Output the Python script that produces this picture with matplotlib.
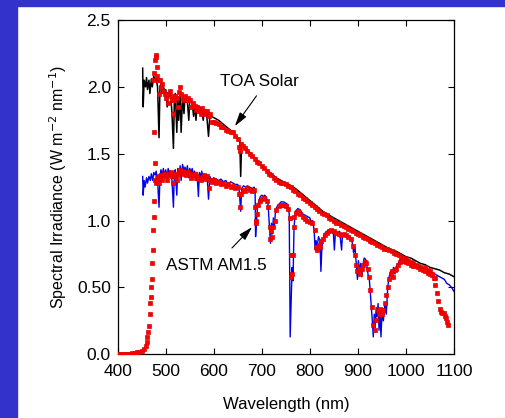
import matplotlib

matplotlib.use("Agg")
import matplotlib.pyplot as plt
from matplotlib.patches import Rectangle

plt.rcParams["font.family"] = ["Liberation Sans", "DejaVu Sans"]

# Top-of-atmosphere solar spectrum (black line)
toa_wl = [452, 453, 455, 458, 460, 462, 465, 467, 470, 472, 475, 478, 480, 483, 486, 488,
          490, 493, 495, 498, 500, 503, 505, 508, 510, 513, 516, 518, 520, 523, 525, 527,
          530, 532, 535, 538, 540, 545, 548, 550, 555, 558, 560, 563, 565, 570, 575, 578,
          580, 585, 589, 592, 595, 600, 610, 620, 630, 640, 650, 654, 656, 658, 665, 675,
          690, 700, 710, 720, 730, 740, 750, 760, 770, 780, 790, 800, 810, 820, 830, 840,
          850, 860, 870, 880, 890, 900, 910, 920, 930, 940, 950, 960, 970, 980, 990, 1000,
          1010, 1020, 1030, 1040, 1050, 1060, 1070, 1080, 1090, 1100]
toa_black = [2.14, 1.85, 2.05, 2.00, 2.07, 1.98, 2.05, 1.95, 2.06, 2.00, 2.08, 2.05, 2.06, 2.00, 1.62, 2.00,
             2.02, 1.95, 2.00, 1.97, 1.98, 1.85, 1.96, 1.94, 1.96, 1.80, 1.54, 1.92, 1.95, 1.66, 1.93, 1.75,
             1.95, 1.66, 1.92, 1.80, 1.92, 1.89, 1.75, 1.90, 1.88, 1.78, 1.87, 1.75, 1.86, 1.85, 1.83, 1.75,
             1.82, 1.80, 1.63, 1.79, 1.78, 1.77, 1.75, 1.72, 1.69, 1.66, 1.62, 1.60, 1.33, 1.58, 1.55, 1.51,
             1.45, 1.41, 1.38, 1.35, 1.32, 1.30, 1.28, 1.26, 1.24, 1.21, 1.18, 1.15, 1.12, 1.09, 1.06, 1.04,
             1.02, 1.00, 0.98, 0.96, 0.94, 0.92, 0.90, 0.88, 0.86, 0.84, 0.82, 0.80, 0.78, 0.77, 0.75, 0.73,
             0.72, 0.70, 0.68, 0.67, 0.65, 0.64, 0.63, 0.61, 0.60, 0.58]

# Measured TOA points (red)
toa_red_wl = [473, 475, 476, 478, 479, 480, 481, 482, 484, 486, 488, 490, 493, 495, 498, 500,
              503, 505, 508, 510, 513, 515, 518, 520, 523, 525, 528, 530, 532, 535, 538, 540,
              543, 546, 550, 553, 556, 560, 563, 566, 570, 573, 576, 580, 583, 586, 590, 593,
              596, 600, 605, 610, 615, 620, 625, 630, 635, 640, 645, 650, 653, 655, 657, 660,
              665, 670, 675, 680, 685, 690, 695, 700, 705, 710, 715, 720, 725, 730, 735, 740,
              745, 750, 755, 760, 765, 770, 775, 780, 785, 790, 795, 800, 805, 810, 815, 820,
              825, 830, 835, 840, 845, 850, 855, 860, 865, 870, 875, 880, 885, 890, 895, 900,
              905, 910, 915, 920, 925, 930, 935, 940, 945, 950, 955, 960, 965, 970, 975, 980,
              985, 990, 995, 1000, 1005, 1010, 1015, 1020, 1025, 1030, 1035, 1040, 1045, 1050, 1055, 1060]
toa_red = [2.05, 1.66, 2.10, 2.20, 2.24, 2.22, 2.15, 2.08, 2.05, 1.95, 2.05, 2.00, 2.02, 1.97, 1.95, 1.92,
           1.95, 1.88, 1.97, 1.93, 1.90, 1.80, 1.90, 1.93, 1.92, 1.85, 1.96, 2.00, 1.95, 1.92, 1.90, 1.93,
           1.90, 1.92, 1.90, 1.85, 1.88, 1.86, 1.83, 1.85, 1.82, 1.80, 1.84, 1.82, 1.80, 1.82, 1.78, 1.80,
           1.74, 1.74, 1.73, 1.72, 1.70, 1.70, 1.68, 1.67, 1.66, 1.66, 1.63, 1.61, 1.55, 1.52, 1.57, 1.56,
           1.54, 1.52, 1.50, 1.48, 1.46, 1.44, 1.43, 1.41, 1.39, 1.37, 1.35, 1.34, 1.32, 1.30, 1.29, 1.28,
           1.28, 1.27, 1.26, 1.25, 1.23, 1.22, 1.20, 1.19, 1.17, 1.16, 1.15, 1.13, 1.12, 1.10, 1.09, 1.07,
           1.06, 1.05, 1.04, 1.02, 1.01, 1.00, 0.98, 0.98, 0.97, 0.96, 0.95, 0.94, 0.93, 0.92, 0.91, 0.90,
           0.89, 0.88, 0.87, 0.86, 0.85, 0.84, 0.83, 0.82, 0.81, 0.80, 0.79, 0.79, 0.78, 0.77, 0.76, 0.75,
           0.74, 0.73, 0.72, 0.71, 0.70, 0.69, 0.68, 0.67, 0.66, 0.65, 0.64, 0.65, 0.63, 0.62, 0.60, 0.57]

# ASTM AM1.5 reference spectrum (blue line)
am_wl = [452, 453, 455, 457, 460, 462, 465, 468, 470, 473, 475, 478, 480, 483, 486, 488,
         490, 493, 495, 498, 500, 503, 505, 508, 510, 513, 516, 518, 520, 523, 525, 528,
         530, 532, 535, 538, 540, 543, 545, 548, 550, 553, 555, 558, 560, 563, 565, 568,
         570, 573, 575, 578, 580, 583, 586, 589, 592, 595, 600, 605, 610, 615, 620, 625,
         630, 635, 640, 645, 650, 653, 656, 658, 662, 666, 670, 675, 680, 684, 686, 687,
         689, 691, 694, 697, 700, 703, 706, 710, 713, 716, 718, 720, 722, 724, 726, 728,
         731, 735, 740, 745, 750, 754, 757, 759, 761, 763, 765, 767, 770, 775, 780, 785,
         790, 795, 800, 803, 806, 809, 811, 813, 815, 818, 821, 823, 825, 827, 830, 835,
         840, 845, 849, 851, 853, 858, 862, 866, 868, 872, 878, 884, 888, 891, 894, 897,
         899, 901, 904, 906, 908, 910, 913, 916, 918, 921, 924, 927, 930, 932, 934, 936,
         938, 940, 942, 944, 946, 948, 950, 953, 956, 959, 962, 965, 968, 971, 974, 977,
         980, 984, 988, 992, 996, 1000, 1010, 1020, 1030, 1040, 1050, 1060, 1070, 1080, 1085, 1090,
         1095, 1100]
am_blue = [1.33, 1.19, 1.30, 1.25, 1.32, 1.28, 1.33, 1.30, 1.35, 1.30, 1.36, 1.34, 1.37, 1.30, 1.10, 1.33,
           1.38, 1.34, 1.39, 1.33, 1.38, 1.32, 1.39, 1.35, 1.37, 1.30, 1.10, 1.36, 1.38, 1.19, 1.39, 1.35,
           1.41, 1.30, 1.42, 1.37, 1.40, 1.36, 1.41, 1.32, 1.39, 1.36, 1.39, 1.33, 1.37, 1.30, 1.36, 1.18,
           1.36, 1.33, 1.37, 1.31, 1.35, 1.33, 1.34, 1.16, 1.33, 1.30, 1.32, 1.31, 1.30, 1.31, 1.29, 1.30,
           1.27, 1.29, 1.28, 1.27, 1.27, 1.22, 1.07, 1.24, 1.26, 1.25, 1.26, 1.25, 1.24, 1.25, 1.22, 0.88,
           1.00, 1.10, 1.15, 1.18, 1.19, 1.18, 1.19, 1.17, 1.12, 0.95, 0.83, 0.98, 0.90, 1.02, 0.95, 1.05,
           1.10, 1.12, 1.14, 1.14, 1.13, 1.12, 1.05, 0.13, 0.40, 0.65, 0.55, 0.95, 1.07, 1.09, 1.08, 1.05,
           1.04, 1.03, 1.02, 0.99, 1.00, 0.92, 0.78, 0.85, 0.80, 0.88, 0.85, 0.62, 0.80, 0.85, 0.90, 0.92,
           0.93, 0.93, 0.90, 0.78, 0.90, 0.91, 0.92, 0.78, 0.90, 0.90, 0.89, 0.88, 0.84, 0.76, 0.80, 0.66,
           0.56, 0.70, 0.62, 0.68, 0.58, 0.66, 0.72, 0.71, 0.68, 0.60, 0.55, 0.40, 0.25, 0.13, 0.30, 0.20,
           0.35, 0.28, 0.38, 0.18, 0.32, 0.13, 0.30, 0.25, 0.38, 0.30, 0.50, 0.58, 0.62, 0.58, 0.65, 0.60,
           0.66, 0.68, 0.71, 0.71, 0.70, 0.70, 0.69, 0.67, 0.66, 0.64, 0.62, 0.60, 0.58, 0.56, 0.53, 0.52,
           0.50, 0.47]

# Measured ground-level points (red)
am_red_wl = [400, 405, 410, 415, 420, 425, 430, 435, 440, 445, 450, 455, 458, 460, 462, 464,
             466, 467, 468, 469, 470, 471, 472, 473, 474, 475, 476, 477, 478, 479, 481, 483,
             485, 487, 489, 491, 493, 495, 497, 500, 503, 505, 508, 510, 513, 515, 518, 520,
             523, 525, 528, 530, 533, 535, 538, 540, 543, 546, 550, 553, 556, 560, 563, 566,
             570, 573, 576, 580, 583, 586, 589, 592, 596, 600, 605, 610, 615, 620, 625, 630,
             635, 640, 645, 650, 653, 655, 657, 660, 665, 670, 675, 680, 684, 686, 687, 688,
             690, 693, 696, 700, 705, 710, 713, 716, 718, 720, 722, 724, 727, 730, 735, 740,
             745, 750, 755, 758, 760, 761, 762, 764, 766, 768, 772, 776, 780, 785, 790, 795,
             800, 805, 810, 813, 815, 818, 821, 824, 828, 832, 836, 840, 845, 850, 855, 860,
             865, 870, 875, 880, 885, 890, 893, 896, 899, 902, 905, 908, 911, 914, 917, 920,
             923, 926, 929, 932, 935, 938, 941, 944, 947, 950, 953, 956, 959, 962, 965, 968,
             971, 974, 977, 980, 984, 988, 992, 996, 1000, 1005, 1010, 1015, 1020, 1025, 1030, 1035,
             1040, 1045, 1050, 1055, 1058, 1061, 1064, 1067, 1070, 1073, 1076, 1079, 1082, 1084, 1086, 1088]
am_red = [0.00, 0.00, 0.00, 0.00, 0.005, 0.005, 0.01, 0.01, 0.015, 0.02, 0.025, 0.04, 0.06, 0.09, 0.13, 0.17,
          0.21, 0.30, 0.38, 0.43, 0.50, 0.56, 0.68, 0.78, 0.93, 1.03, 1.15, 1.30, 1.43, 1.28, 1.32, 1.30,
          1.33, 1.28, 1.32, 1.34, 1.30, 1.34, 1.35, 1.33, 1.30, 1.35, 1.34, 1.36, 1.33, 1.28, 1.33, 1.35,
          1.30, 1.34, 1.36, 1.38, 1.36, 1.37, 1.35, 1.36, 1.34, 1.36, 1.35, 1.32, 1.34, 1.35, 1.32, 1.33,
          1.31, 1.30, 1.32, 1.34, 1.31, 1.33, 1.24, 1.30, 1.29, 1.30, 1.28, 1.29, 1.27, 1.28, 1.26, 1.27,
          1.25, 1.26, 1.24, 1.25, 1.20, 1.10, 1.20, 1.23, 1.22, 1.24, 1.23, 1.22, 1.23, 1.10, 1.00, 0.98,
          1.05, 1.12, 1.15, 1.16, 1.17, 1.15, 1.10, 0.95, 0.86, 0.92, 0.88, 0.95, 1.00, 1.08, 1.11, 1.12,
          1.12, 1.11, 1.09, 1.02, 0.74, 0.58, 0.60, 0.74, 0.95, 1.03, 1.06, 1.07, 1.05, 1.03, 1.01, 1.00,
          0.99, 0.98, 0.93, 0.80, 0.78, 0.82, 0.80, 0.85, 0.86, 0.89, 0.91, 0.92, 0.93, 0.92, 0.91, 0.90,
          0.89, 0.90, 0.89, 0.88, 0.86, 0.81, 0.74, 0.67, 0.62, 0.64, 0.60, 0.64, 0.67, 0.69, 0.68, 0.64,
          0.58, 0.48, 0.35, 0.22, 0.18, 0.26, 0.33, 0.30, 0.34, 0.30, 0.33, 0.38, 0.44, 0.50, 0.56, 0.60,
          0.62, 0.58, 0.63, 0.64, 0.67, 0.69, 0.70, 0.70, 0.69, 0.68, 0.67, 0.66, 0.66, 0.65, 0.64, 0.63,
          0.62, 0.61, 0.60, 0.59, 0.57, 0.52, 0.46, 0.40, 0.34, 0.32, 0.31, 0.31, 0.29, 0.27, 0.24, 0.22]

x_ticks = [400, 500, 600, 700, 800, 900, 1000, 1100]
y_ticks = [0.0, 0.5, 1.0, 1.5, 2.0, 2.5]
y_tick_labels = ["0.0", "0.50", "1.0", "1.5", "2.0", "2.5"]

fig = plt.figure(figsize=(5.05, 4.18), dpi=100)
fig.patch.set_facecolor("white")
# blue slide frame on left and top
fig.patches.append(Rectangle((0, 0), 17 / 505, 1, transform=fig.transFigure, color="#3333CC", zorder=0))
fig.patches.append(Rectangle((0, 412 / 418), 1, 6 / 418, transform=fig.transFigure, color="#3333CC", zorder=0))

ax = fig.add_axes([117.7 / 505, 63.7 / 418, 336.3 / 505, 334.3 / 418])

ax.plot(toa_wl, toa_black, color="black", lw=1.1, zorder=2)
ax.plot(am_wl, am_blue, color="#0000EE", lw=1.0, zorder=2)
red_style = dict(linestyle="none", marker="s", ms=3.2, mfc="#FF0000", mec="#E00000", mew=0.5, zorder=3)
ax.plot(toa_red_wl, toa_red, **red_style)
ax.plot(am_red_wl, am_red, **red_style)

arrow = dict(arrowstyle="-|>,head_length=0.7,head_width=0.2", color="black", lw=0.8, mutation_scale=12)
ax.annotate("", xy=(640.6, 1.69), xytext=(692.3, 1.95), arrowprops=arrow)
ax.text(694, 2.04, "TOA Solar", ha="center", va="center", fontsize=12.3)
ax.annotate("", xy=(683.7, 0.966), xytext=(633.8, 0.78), arrowprops=arrow)
ax.text(605.7, 0.663, "ASTM AM1.5", ha="center", va="center", fontsize=12.3)

ax.set_xlim(400, 1100)
ax.set_ylim(0, 2.5)
ax.set_xticks(x_ticks)
ax.set_yticks(y_ticks)
ax.set_yticklabels(y_tick_labels)
ax.tick_params(direction="in", top=True, right=True, length=4, width=0.8, labelsize=12.5)
ax.tick_params(axis="x", pad=7)
ax.tick_params(axis="y", pad=5)
ax.set_xlabel("Wavelength (nm)", fontsize=12, labelpad=13)
ax.set_ylabel("Spectral Irradiance (W m$^{-2}$ nm$^{-1}$)", fontsize=11.5, labelpad=6)
for s in ax.spines.values():
    s.set_linewidth(0.9)

fig.savefig("out.png", dpi=100)
